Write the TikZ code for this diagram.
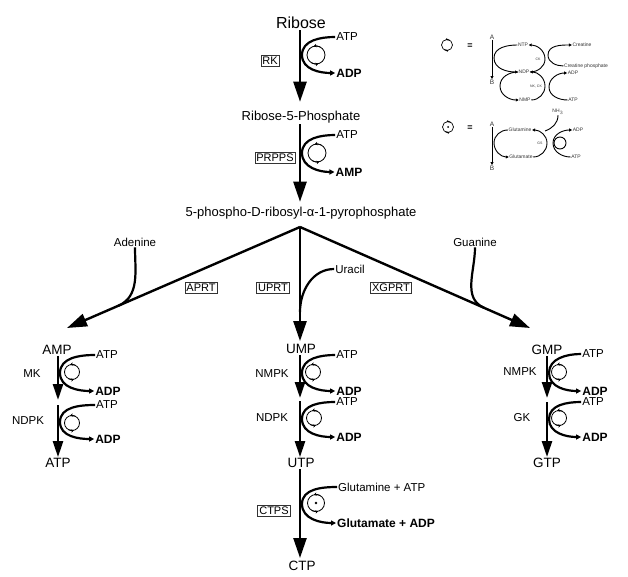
\documentclass[tikz,border=0pt]{standalone}
\usepackage{fontspec}
\setmainfont{Liberation Sans}
\usetikzlibrary{arrows.meta,calc}
\tikzset{
  cycsym/.pic={
    \draw[line width=0.8pt] (0,0) circle (\cycr);
    \draw[line width=0.8pt,-{Stealth[length=3pt,width=3.5pt]}] (60:\cycr) arc (60:105:\cycr);
    \draw[line width=0.8pt,-{Stealth[length=3pt,width=3.5pt]}] (240:\cycr) arc (240:285:\cycr);
  },
  dotsym/.pic={
    \draw[line width=0.8pt] (0,0) circle (8.5);
    \draw[line width=0.8pt,-{Stealth[length=3pt,width=3.5pt]}] (60:8.5) arc (60:105:8.5);
    \draw[line width=0.8pt,-{Stealth[length=3pt,width=3.5pt]}] (240:8.5) arc (240:285:8.5);
    \fill (0,0) circle (1.3);
  },
  legcyc/.pic={
    \draw[line width=0.7pt] (0,0) circle (5.5);
    \draw[line width=0.7pt,-{Stealth[length=2pt,width=2.5pt]}] (60:5.5) arc (60:105:5.5);
    \draw[line width=0.7pt,-{Stealth[length=2pt,width=2.5pt]}] (240:5.5) arc (240:285:5.5);
  },
}
\def\cycr{7.5}
\begin{document}
\begin{tikzpicture}[x=1pt,y=1pt,
  lbl/.style={inner sep=1pt,font=\fontsize{11.5}{13}\selectfont},
  prod/.style={inner sep=1pt,font=\fontsize{12}{14}\selectfont\bfseries},
  big/.style={inner sep=1pt,font=\fontsize{13}{15}\selectfont},
  enz/.style={draw=black!80,line width=0.7pt,inner sep=1.5pt,font=\fontsize{11}{13}\selectfont},
  mainarr/.style={line width=2.4pt,-{Triangle[length=20pt,width=13pt]}},
  subarr/.style={line width=2.4pt,-{Triangle[length=16pt,width=10pt]}},
  cof/.style={line width=2.2pt,-{Triangle[length=5pt,width=5pt]}},
  feed/.style={line width=2.2pt},
  leg/.style={font=\fontsize{5}{6}\selectfont,inner sep=0.5pt,text=black!80},
  legline/.style={line width=0.9pt},
  legarr/.style={line width=0.9pt,-{Triangle[length=3pt,width=3pt]}},
]
\useasboundingbox (0,0) rectangle (628,-577);
\fill[white] (0,0) rectangle (628,-577);

% ---------- top chain ----------
\node[inner sep=1pt,font=\fontsize{16}{18}\selectfont] (ribose) at (301,-23) {Ribose};
\node[big] (r5p) at (301,-117) {Ribose-5-Phosphate};
\node[big] (prpp) at (301,-213) {5-phospho-D-ribosyl-α-1-pyrophosphate};

\draw[mainarr,shorten >=8pt] (ribose.south -| 300,0) -- (r5p.north -| 300,0);
\draw[mainarr,shorten >=4pt] (r5p.south -| 300,0) -- (prpp.north -| 300,0);

\node[lbl] (atp1) at (347,-37) {ATP};
\node[prod] (adp1) at (349,-73) {ADP};
\coordinate (t1) at (302,-55);
\draw[cof] (atp1.west) to[out=180,in=90] (t1) to[out=-90,in=180] (adp1.west);
\def\cycr{9}
\pic at (316,-55) {cycsym};
\node[enz] (rk) at (270,-61) {RK};

\node[lbl] (atp2) at (347,-135) {ATP};
\node[prod] (amp2) at (349,-172) {AMP};
\coordinate (t2) at (302,-153);
\draw[cof] (atp2.west) to[out=180,in=90] (t2) to[out=-90,in=180] (amp2.west);
\pic at (317,-153) {cycsym};
\node[enz] (prpps) at (275,-158) {PRPPS};
\def\cycr{7.5}

% ---------- branches ----------
\coordinate (apex) at (300,-227);
\coordinate (ltip) at (67,-328);
\coordinate (rtip) at (530,-328);
\node[inner sep=1pt,font=\fontsize{13.5}{15}\selectfont] (amp) at (57,-350) {AMP};
\node[inner sep=1pt,font=\fontsize{13.5}{15}\selectfont] (ump) at (301,-349) {UMP};
\node[inner sep=1pt,font=\fontsize{13.5}{15}\selectfont] (gmp) at (547,-350) {GMP};

\draw[mainarr] (apex) -- (ltip);
\draw[mainarr] (apex) -- (rtip);
\draw[mainarr,shorten >=2pt] (apex) -- (ump.north -| apex);

\node[lbl] (aden) at (135,-242) {Adenine};
\node[lbl] (guan) at (475,-242) {Guanine};
\node[lbl] (ura) at (350,-269) {Uracil};
\coordinate (ajoin) at ($(apex)!0.78!(ltip)$);
\coordinate (gjoin) at ($(apex)!0.80!(rtip)$);
\coordinate (ujoin) at (300,-312);
\draw[feed] (aden.south) to[out=-90,in=23.4] (ajoin);
\draw[feed] (guan.south) to[out=-90,in=156.3] (gjoin);
\draw[feed] (ura.west) to[out=180,in=90] (ujoin);

\node[enz] (aprt) at (201,-288) {APRT};
\node[enz] (uprt) at (273,-288) {UPRT};
\node[enz] (xgprt) at (391,-288) {XGPRT};

% ---------- left column ----------
\node[inner sep=1pt,font=\fontsize{13.5}{15}\selectfont] (atpL) at (58,-463) {ATP};
\coordinate (lm1) at (58,-400);
\coordinate (lm2) at (58,-405);
\draw[subarr] (amp.south -| lm1) -- (lm1);
\draw[subarr] (lm2) -- (atpL.north);
\node[lbl] (atpL1) at (107,-355) {ATP};
\node[prod] (adpL1) at (108,-391) {ADP};
\node[lbl] (atpL2) at (107,-405) {ATP};
\node[prod] (adpL2) at (108,-439) {ADP};
\coordinate (lt1) at (60,-373);
\coordinate (lt2) at (60,-422);
\draw[cof] (atpL1.west) to[out=180,in=90] (lt1) to[out=-90,in=180] (adpL1.west);
\draw[cof] (atpL2.west) to[out=180,in=90] (lt2) to[out=-90,in=180] (adpL2.west);
\pic at (72,-372) {cycsym};
\pic at (72,-423) {cycsym};
\node[lbl] (mk) at (32,-374) {MK};
\node[lbl] (ndpkL) at (28,-421) {NDPK};

% ---------- middle column ----------
\node[inner sep=1pt,font=\fontsize{13.5}{15}\selectfont] (utp) at (301,-463) {UTP};
\coordinate (mm1) at (300,-398);
\coordinate (mm2) at (300,-401);
\draw[subarr] (ump.south -| mm1) -- (mm1);
\draw[subarr] (mm2) -- (utp.north -| mm2);
\node[lbl] (atpM1) at (347,-355) {ATP};
\node[prod] (adpM1) at (349,-391) {ADP};
\node[lbl] (atpM2) at (347,-402) {ATP};
\node[prod] (adpM2) at (349,-437) {ADP};
\coordinate (mt1) at (302,-373);
\coordinate (mt2) at (302,-419);
\draw[cof] (atpM1.west) to[out=180,in=90] (mt1) to[out=-90,in=180] (adpM1.west);
\draw[cof] (atpM2.west) to[out=180,in=90] (mt2) to[out=-90,in=180] (adpM2.west);
\pic at (313,-372) {cycsym};
\pic at (314,-418) {cycsym};
\node[lbl] (nmpkM) at (272,-374) {NMPK};
\node[lbl] (ndpkM) at (272,-418) {NDPK};

% ---------- right column ----------
\node[inner sep=1pt,font=\fontsize{13.5}{15}\selectfont] (gtp) at (547,-463) {GTP};
\coordinate (rm1) at (547,-398);
\coordinate (rm2) at (547,-402);
\draw[subarr] (gmp.south -| rm1) -- (rm1);
\draw[subarr] (rm2) -- (gtp.north);
\node[lbl] (atpR1) at (593,-354) {ATP};
\node[prod] (adpR1) at (595,-391) {ADP};
\node[lbl] (atpR2) at (593,-402) {ATP};
\node[prod] (adpR2) at (595,-437) {ADP};
\coordinate (rt1) at (549,-373);
\coordinate (rt2) at (549,-419);
\draw[cof] (atpR1.west) to[out=180,in=90] (rt1) to[out=-90,in=180] (adpR1.west);
\draw[cof] (atpR2.west) to[out=180,in=90] (rt2) to[out=-90,in=180] (adpR2.west);
\pic at (559,-372) {cycsym};
\pic at (559,-418) {cycsym};
\node[lbl] (nmpkR) at (520,-372) {NMPK};
\node[lbl] (gk) at (522,-418) {GK};

% ---------- CTPS ----------
\node[inner sep=1pt,font=\fontsize{13.5}{15}\selectfont] (ctp) at (302,-566) {CTP};
\draw[mainarr,shorten >=2pt] (utp.south -| 300,0) -- (ctp.north -| 300,0);
\node[lbl,anchor=west] (glnatp) at (337,-487) {Glutamine + ATP};
\node[prod,anchor=west] (gluadp) at (336,-523) {Glutamate + ADP};
\coordinate (ct) at (302,-504);
\draw[cof] (glnatp.west) to[out=180,in=90] (ct) to[out=-90,in=180] (gluadp.west);
\pic at (316,-503) {dotsym};
\node[enz] (ctps) at (274,-511) {CTPS};

% ---------- legend 1 ----------
\pic at (447,-45) {legcyc};
\node[inner sep=0pt,font=\fontsize{9}{10}\selectfont\bfseries] (eq1) at (470,-46) {=};
\node[leg,font=\fontsize{6.5}{7}\selectfont] (la1) at (492,-37) {A};
\node[leg,font=\fontsize{6.5}{7}\selectfont] (lb1) at (492,-82) {B};
\draw[legarr] (la1.south) -- (lb1.north);
\node[leg] (ntp) at (523,-45) {NTP};
\node[leg] (ndp) at (524,-72) {NDP};
\node[leg] (nmp) at (525,-100) {NMP};
\draw[legarr] (ntp.west) to[out=180,in=90] (494,-58) to[out=-90,in=180] (ndp.west);
\draw[legarr] (ndp.west) to[out=180,in=90] (500,-86) to[out=-90,in=180] (nmp.west);
\draw[legarr] (ndp.east) to[out=0,in=-90] (545,-59) to[out=90,in=0] (ntp.east);
\draw[legarr] (nmp.east) to[out=0,in=-90] (545,-86) to[out=90,in=0] (ndp.east);
\node[leg,font=\fontsize{3.5}{4}\selectfont] (ck) at (538,-59) {CK};
\node[leg,font=\fontsize{3.5}{4}\selectfont] (nkck) at (536,-87) {NK, CK};
\node[leg] (crea) at (582,-45) {Creatine};
\node[leg] (creap) at (586,-66) {Creatine phosphate};
\draw[legarr] (creap.west) to[out=180,in=-90] (548,-55) to[out=90,in=180] (crea.west);
\node[leg] (ladp) at (573,-73) {ADP};
\node[leg] (latp) at (573,-100) {ATP};
\draw[legarr] (latp.west) to[out=180,in=-90] (549,-87) to[out=90,in=180] (ladp.west);

% ---------- legend 2 ----------
\pic at (448,-127) {legcyc};
\fill (448,-127) circle (1);
\node[inner sep=0pt,font=\fontsize{9}{10}\selectfont\bfseries] (eq2) at (470,-128) {=};
\node[leg,font=\fontsize{6.5}{7}\selectfont] (la2) at (492,-124) {A};
\node[leg,font=\fontsize{6.5}{7}\selectfont] (lb2) at (492,-168) {B};
\draw[legarr] (la2.south) -- (lb2.north);
\node[leg] (gln) at (520,-130) {Glutamine};
\node[leg] (glu) at (521,-157) {Glutamate};
\draw[legarr] (gln.west) to[out=180,in=90] (494,-143) to[out=-90,in=180] (glu.west);
\draw[legarr] (glu.east) to[out=0,in=-90] (547,-143) to[out=90,in=0] (gln.east);
\node[leg] (nh3) at (558,-112) {NH$_3$};
\coordinate (nhj) at (545,-131);
\draw[legline] (nh3.south) to[out=-90,in=20] (nhj);
\node[leg,font=\fontsize{3.5}{4}\selectfont] (gs) at (540,-143) {GS};
\node[leg] (ladp2) at (578,-130) {ADP};
\node[leg] (latp2) at (576,-157) {ATP};
\draw[legarr] (latp2.west) to[out=180,in=-90] (553,-143) to[out=90,in=180] (ladp2.west);
\draw[line width=0.9pt] (560,-143) circle (6);
\end{tikzpicture}
\end{document}
